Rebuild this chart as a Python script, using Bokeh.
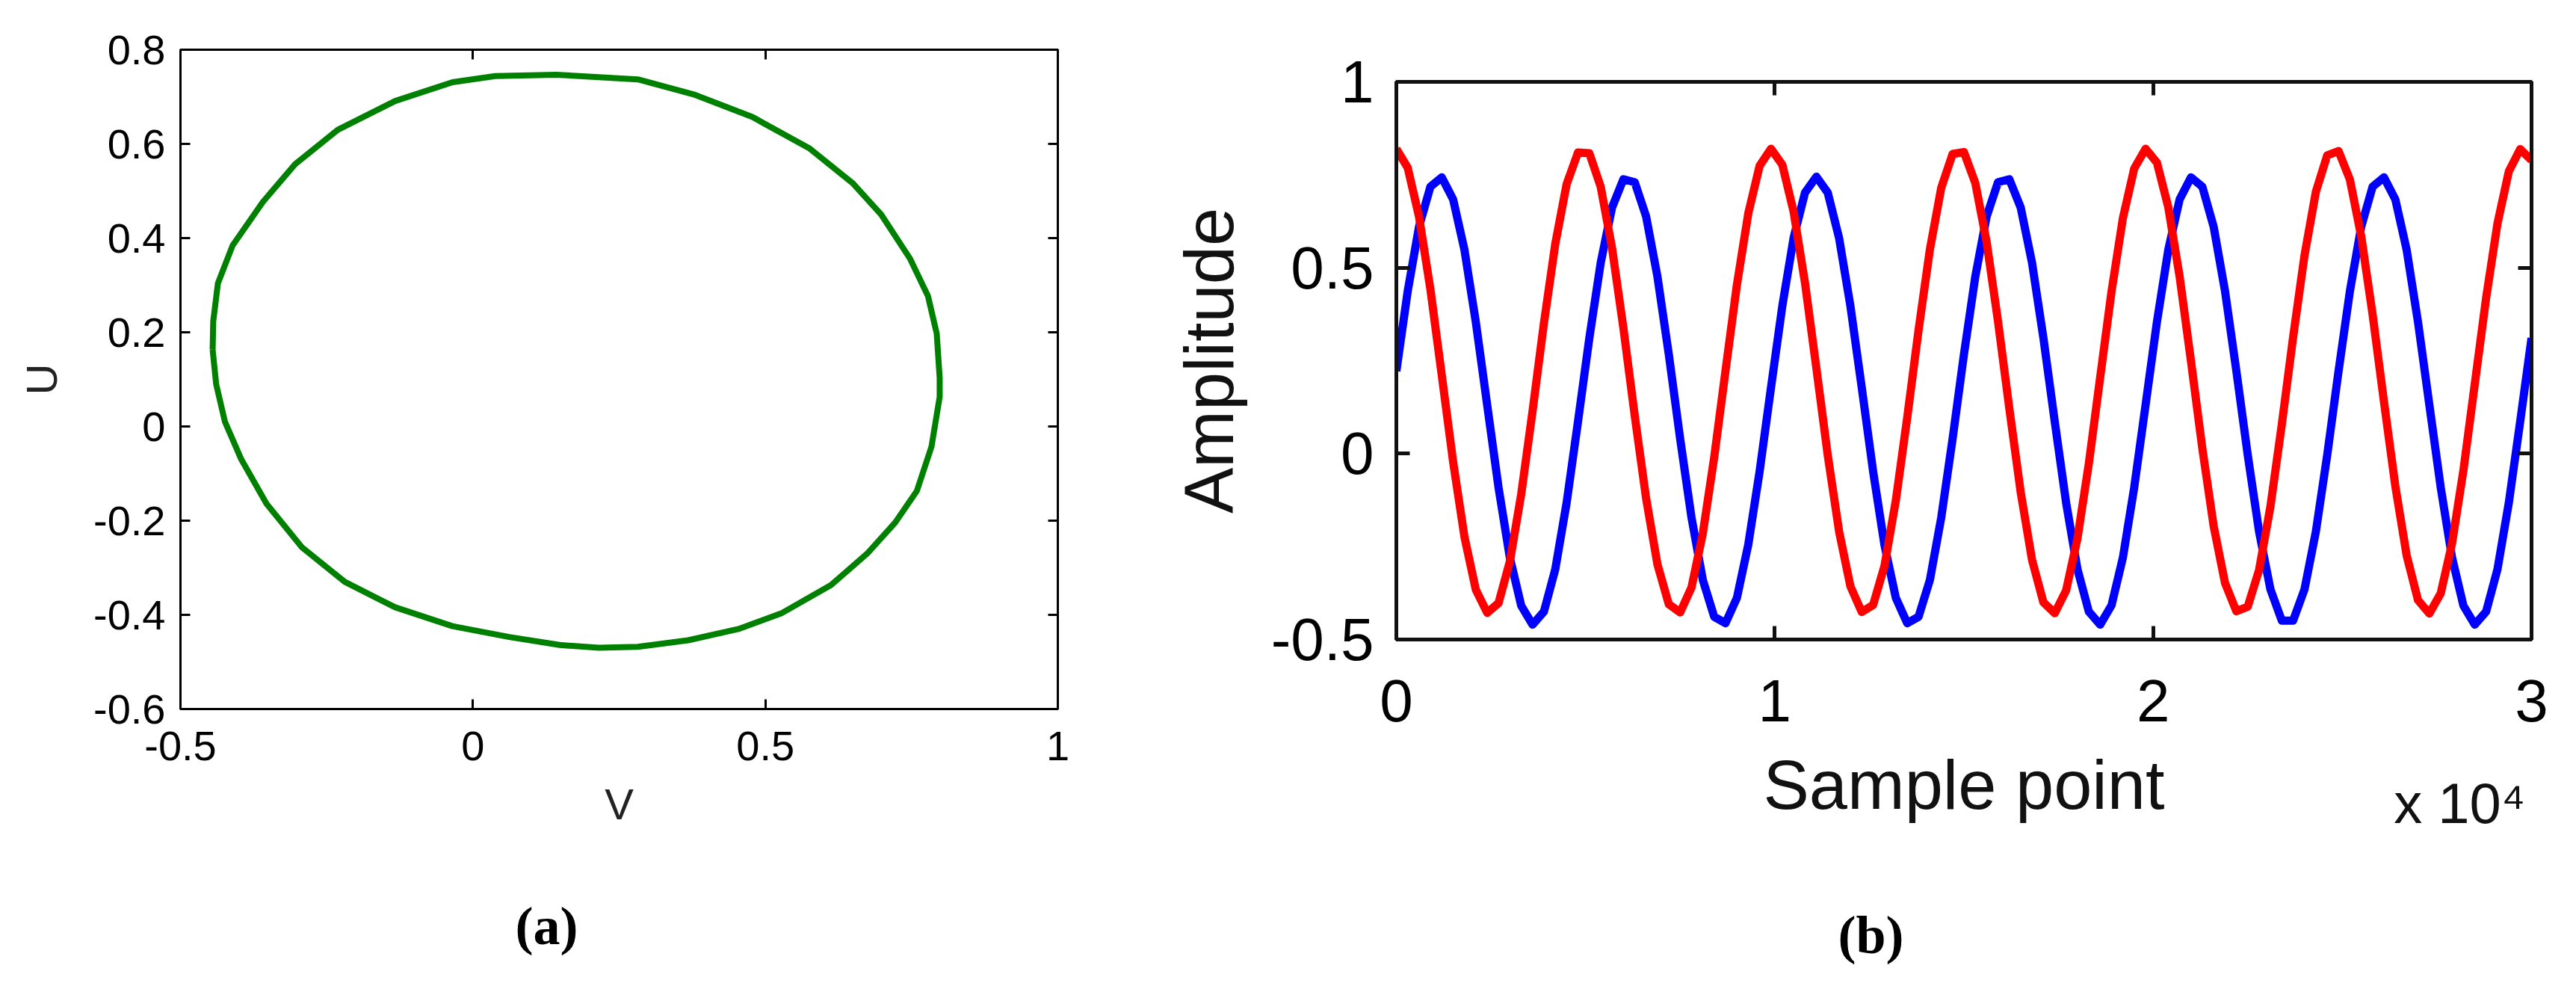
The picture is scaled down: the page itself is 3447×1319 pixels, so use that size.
from bokeh.plotting import figure
from bokeh.models import LinearAxis, Range1d, FixedTicker, Title
from bokeh.layouts import row
from bokeh.embed import file_html
from bokeh.resources import INLINE

# ---------------- Panel (a): U versus V ----------------
V_vals = [-0.445, -0.444, -0.436, -0.411, -0.359, -0.304, -0.231, -0.133, -0.035, 0.038,
          0.142, 0.282, 0.380, 0.478, 0.576, 0.649, 0.698, 0.747, 0.778, 0.793,
          0.798, 0.798, 0.784, 0.759, 0.722, 0.674, 0.612, 0.527, 0.454, 0.368,
          0.282, 0.215, 0.148, 0.062, -0.035, -0.133, -0.219, -0.292, -0.353, -0.396,
          -0.424, -0.439, -0.445]
U_vals = [0.163, 0.223, 0.304, 0.384, 0.477, 0.557, 0.630, 0.691, 0.731, 0.744,
          0.747, 0.737, 0.704, 0.657, 0.590, 0.517, 0.450, 0.357, 0.277, 0.197,
          0.103, 0.063, -0.043, -0.137, -0.204, -0.270, -0.337, -0.397, -0.430, -0.454,
          -0.468, -0.470, -0.464, -0.447, -0.424, -0.384, -0.330, -0.257, -0.164, -0.070,
          0.010, 0.090, 0.163]
a_xticks = [-0.5, 0, 0.5, 1]
a_xtick_labels = ["-0.5", "0", "0.5", "1"]
a_yticks = [-0.6, -0.4, -0.2, 0, 0.2, 0.4, 0.6, 0.8]
a_ytick_labels = ["-0.6", "-0.4", "-0.2", "0", "0.2", "0.4", "0.6", "0.8"]

# ---------------- Panel (b): Amplitude versus sample point ----------------
sample_points = list(range(0, 30001, 300))
red_amp = [0.820, 0.769, 0.637, 0.442, 0.211, -0.022, -0.224, -0.366, -0.428, -0.402,
           -0.290, -0.109, 0.115, 0.351, 0.564, 0.725, 0.810, 0.808, 0.718, 0.553,
           0.338, 0.102, -0.120, -0.298, -0.405, -0.427, -0.360, -0.214, -0.010, 0.224,
           0.454, 0.646, 0.774, 0.820, 0.777, 0.650, 0.459, 0.230, -0.004, -0.209,
           -0.357, -0.426, -0.407, -0.302, -0.126, 0.096, 0.332, 0.549, 0.715, 0.806,
           0.811, 0.728, 0.569, 0.356, 0.121, -0.104, -0.286, -0.400, -0.429, -0.368,
           -0.228, -0.027, 0.205, 0.436, 0.633, 0.767, 0.820, 0.783, 0.663, 0.476,
           0.249, 0.014, -0.195, -0.348, -0.424, -0.412, -0.313, -0.142, 0.078, 0.314,
           0.533, 0.704, 0.802, 0.814, 0.737, 0.584, 0.374, 0.140, -0.087, -0.274,
           -0.394, -0.430, -0.376, -0.241, -0.045, 0.187, 0.419, 0.619, 0.759, 0.819,
           0.789]
blue_amp = [0.222, 0.437, 0.611, 0.718, 0.743, 0.684, 0.548, 0.354, 0.131, -0.091,
            -0.280, -0.409, -0.460, -0.425, -0.311, -0.132, 0.086, 0.311, 0.513, 0.662,
            0.738, 0.730, 0.638, 0.476, 0.267, 0.040, -0.172, -0.340, -0.439, -0.456,
            -0.388, -0.245, -0.048, 0.177, 0.397, 0.581, 0.702, 0.745, 0.702, 0.580,
            0.397, 0.177, -0.048, -0.246, -0.388, -0.456, -0.439, -0.340, -0.172, 0.040,
            0.267, 0.476, 0.638, 0.730, 0.738, 0.662, 0.513, 0.311, 0.086, -0.132,
            -0.311, -0.425, -0.460, -0.408, -0.280, -0.091, 0.131, 0.354, 0.548, 0.684,
            0.743, 0.718, 0.610, 0.437, 0.222, -0.004, -0.210, -0.365, -0.449, -0.449,
            -0.365, -0.210, -0.004, 0.222, 0.437, 0.611, 0.718, 0.743, 0.684, 0.548,
            0.354, 0.131, -0.091, -0.280, -0.409, -0.460, -0.425, -0.311, -0.132, 0.086,
            0.311]
b_xticks = [0, 10000, 20000, 30000]
b_xtick_labels = ["0", "1", "2", "3"]
b_yticks = [-0.5, 0, 0.5, 1]
b_ytick_labels = ["-0.5", "0", "0.5", "1"]
b_exponent_label = "x 10\u2074"
b_exponent_at = 28100

FONT = "Liberation Sans"
SERIF = "Liberation Serif"


def style_axis(ax, ticks, labels, fs, standoff, tick_len, lw, color="black"):
    ax.ticker = FixedTicker(ticks=ticks)
    ax.major_label_overrides = {t: l for t, l in zip(ticks, labels)}
    ax.major_label_text_font = FONT
    ax.major_label_text_font_size = fs
    ax.major_label_text_color = "black"
    ax.major_label_standoff = standoff
    ax.major_tick_in = tick_len
    ax.major_tick_out = 0
    ax.minor_tick_in = 0
    ax.minor_tick_out = 0
    ax.axis_line_width = lw
    ax.axis_line_color = color
    ax.major_tick_line_width = lw
    ax.major_tick_line_color = color


def mirror_axis(p, side, ticks, tick_len, lw, color="black"):
    ax = LinearAxis()
    style_axis(ax, ticks, [""] * len(ticks), "0px", 0, tick_len, lw, color)
    ax.major_label_text_alpha = 0
    p.add_layout(ax, side)


def spacer(p, gap):
    p.add_layout(Title(text=" ", text_font_size="10px", standoff=gap,
                       text_color="white"), "below")


# ---------- figure (a) ----------
pa = figure(width=1492, height=1303,
            x_range=Range1d(-0.5, 1), y_range=Range1d(-0.6, 0.8),
            output_backend="svg", toolbar_location=None,
            min_border_left=241, min_border_right=77,
            min_border_top=66, min_border_bottom=355)
pa.frame_align = False
pa.grid.visible = False
pa.outline_line_color = "black"
pa.outline_line_width = 3
pa.background_fill_color = "white"
pa.border_fill_color = "white"

xa = pa.below[0]
ya = pa.left[0]
style_axis(xa, a_xticks, a_xtick_labels, "56px", 30, 13, 3)
style_axis(ya, a_yticks, a_ytick_labels, "56px", 20, 13, 3)
xa.axis_label = "V"
ya.axis_label = "U"
for ax, st in ((xa, 23), (ya, 34)):
    ax.axis_label_text_font = FONT
    ax.axis_label_text_font_size = "58px"
    ax.axis_label_text_font_style = "normal"
    ax.axis_label_text_color = "#222222"
    ax.axis_label_standoff = st
mirror_axis(pa, "above", a_xticks, 13, 3)
mirror_axis(pa, "right", a_yticks, 13, 3)

pa.line(V_vals, U_vals, line_color="#008000", line_width=8, line_join="round")

spacer(pa, 73)
pa.add_layout(Title(text="(a)", align="left", offset=448, standoff=0,
                    text_font=SERIF, text_font_size="72px",
                    text_font_style="bold", text_color="black"), "below")

# ---------- figure (b) ----------
pb = figure(width=1939, height=1303,
            x_range=Range1d(0, 30000), y_range=Range1d(-0.5, 1),
            output_backend="svg", toolbar_location=None,
            min_border_left=376, min_border_right=44,
            min_border_top=109, min_border_bottom=448)
pb.frame_align = False
pb.grid.visible = False
pb.outline_line_color = "#111111"
pb.outline_line_width = 5
pb.background_fill_color = "white"
pb.border_fill_color = "white"

xb = pb.below[0]
yb = pb.left[0]
style_axis(xb, b_xticks, b_xtick_labels, "80px", 54, 18, 5, "#111111")
style_axis(yb, b_yticks, b_ytick_labels, "80px", 30, 18, 5, "#111111")
yb.axis_label = "Amplitude"
yb.axis_label_text_font = FONT
yb.axis_label_text_font_size = "92px"
yb.axis_label_text_font_style = "normal"
yb.axis_label_text_color = "#111111"
yb.axis_label_standoff = 29
mirror_axis(pb, "above", b_xticks, 18, 5, "#111111")
mirror_axis(pb, "right", b_yticks, 18, 5, "#111111")

# second, line-less axis below: carries the "x 10^4" multiplier and the axis title
xb2 = LinearAxis(ticker=FixedTicker(ticks=[b_exponent_at]),
                 major_label_overrides={b_exponent_at: b_exponent_label})
xb2.axis_line_color = None
xb2.major_tick_line_color = None
xb2.minor_tick_line_color = None
xb2.major_tick_in = 0
xb2.major_tick_out = 0
xb2.minor_tick_in = 0
xb2.minor_tick_out = 0
xb2.major_label_text_font = FONT
xb2.major_label_text_font_size = "76px"
xb2.major_label_text_color = "#111111"
xb2.major_label_standoff = 64
xb2.axis_label = "Sample point"
xb2.axis_label_text_font = FONT
xb2.axis_label_text_font_size = "92px"
xb2.axis_label_text_font_style = "normal"
xb2.axis_label_text_color = "#111111"
xb2.axis_label_standoff = -121
pb.add_layout(xb2, "below")

pb.line(sample_points, blue_amp, line_color="#0000FF", line_width=11, line_join="round")
pb.line(sample_points, red_amp, line_color="#FF0000", line_width=11, line_join="round")

spacer(pb, 92)
pb.add_layout(Title(text="(b)", align="left", offset=591, standoff=0,
                    text_font=SERIF, text_font_size="72px",
                    text_font_style="bold", text_color="black"), "below")

layout = row(pa, pb)
open("out.html", "w").write(file_html(layout, INLINE))
